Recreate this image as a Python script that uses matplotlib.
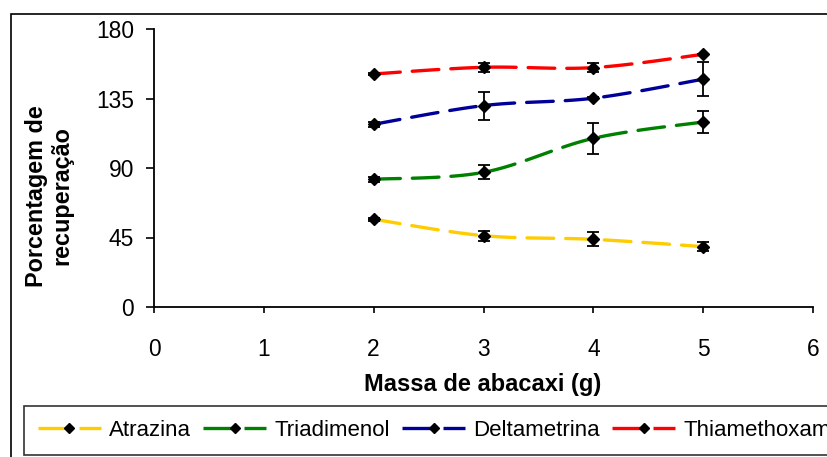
import numpy as np
import matplotlib
matplotlib.use('Agg')
import matplotlib.pyplot as plt
from matplotlib import lines, patches

plt.rcParams['font.family'] = ['Liberation Sans', 'DejaVu Sans']

massa = [2, 3, 4, 5]
series_names = ['Atrazina', 'Triadimenol', 'Deltametrina', 'Thiamethoxam']
atrazina = [56.8, 46.2, 43.8, 39.1]
atrazina_err = [0.8, 3.2, 4.5, 3.0]
triadimenol = [82.7, 87.2, 109.2, 119.8]
triadimenol_err = [1.5, 4.5, 10.0, 7.3]
deltametrina = [118.3, 130.4, 135.2, 147.5]
deltametrina_err = [1.8, 9.0, 0.5, 11.0]
thiamethoxam = [150.9, 155.2, 155.0, 163.6]
thiamethoxam_err = [0.5, 3.0, 3.0, 0.5]
colours = ['#FFCC00', '#008000', '#000099', '#FF0000']


def smooth(x, y, n=40):
    # bezier smoothing like the spreadsheet "smoothed line"
    x = np.asarray(x, float)
    y = np.asarray(y, float)
    pts = np.column_stack([x, y])
    out = []
    for i in range(len(pts) - 1):
        p0 = pts[i - 1] if i > 0 else pts[i]
        p1 = pts[i]
        p2 = pts[i + 1]
        p3 = pts[i + 2] if i + 2 < len(pts) else pts[i + 1]
        c1 = p1 + (p2 - p0) / 6
        c2 = p2 - (p3 - p1) / 6
        t = np.linspace(0, 1, n)[:, None]
        seg = ((1 - t) ** 3) * p1 + 3 * ((1 - t) ** 2) * t * c1 + 3 * (1 - t) * t ** 2 * c2 + t ** 3 * p2
        out.append(seg if i == 0 else seg[1:])
    out = np.vstack(out)
    return out[:, 0], out[:, 1]


fig = plt.figure(figsize=(8.27, 4.57), dpi=100)
fig.patches.append(patches.Rectangle((11 / 827, -0.1), 1.2, 1 - 14 / 457 + 0.1,
                                     transform=fig.transFigure, fill=False,
                                     edgecolor='black', linewidth=1.2, zorder=0))

ax = fig.add_axes([154 / 827, 1 - 307 / 457, (813 - 154) / 827, (307 - 29) / 457])

data = [(atrazina, atrazina_err), (triadimenol, triadimenol_err),
        (deltametrina, deltametrina_err), (thiamethoxam, thiamethoxam_err)]
for (vals, errs), c in zip(data, colours):
    sx, sy = smooth(massa, vals)
    ax.plot(sx, sy, color=c, lw=2.4, dashes=(8, 3.6), solid_capstyle='round',
            dash_capstyle='round', zorder=2)
    ax.errorbar(massa, vals, yerr=errs, fmt='none', ecolor='black', elinewidth=1.3,
                capsize=4.5, capthick=1.3, zorder=3)
    ax.plot(massa, vals, linestyle='none', marker='D', markersize=6.5,
            color='black', zorder=4)

ax.set_xlim(0, 6)
ax.set_ylim(0, 180)
ax.set_xticks(range(0, 7))
ax.set_yticks([0, 45, 90, 135, 180])
ax.spines['top'].set_visible(False)
ax.spines['right'].set_visible(False)
for s in ['left', 'bottom']:
    ax.spines[s].set_linewidth(1.3)
ax.tick_params(axis='y', direction='out', length=5.5, width=1.2, pad=9, labelsize=16.4)
ax.tick_params(axis='x', direction='out', length=4.5, width=1.2, pad=18, labelsize=16.4)

fig.text(483 / 827, 1 - 384 / 457, 'Massa de abacaxi (g)', ha='center', va='center',
         fontsize=17, fontweight='bold')
fig.text(49 / 827, 1 - 196 / 457, 'Porcentagem de\nrecuperação', ha='center', va='center',
         rotation=90, fontsize=16.8, fontweight='bold', multialignment='center',
         linespacing=1.1)

handles = [lines.Line2D([], [], color=c, lw=2.4, dashes=(10.2, 2.1), marker='D',
                        markersize=5, markerfacecolor='black', markeredgecolor='black',
                        label=n) for c, n in zip(colours, series_names)]
leg = fig.legend(handles=handles, loc='lower left', ncol=4,
                 bbox_to_anchor=(24 / 827, 1 - 455 / 457), frameon=True, fancybox=False,
                 edgecolor='black', fontsize=16, handlelength=2.85, handletextpad=0.35,
                 columnspacing=0.55, borderpad=0.62, borderaxespad=0)
leg.get_frame().set_linewidth(1.2)

fig.savefig('out.png', dpi=100)
